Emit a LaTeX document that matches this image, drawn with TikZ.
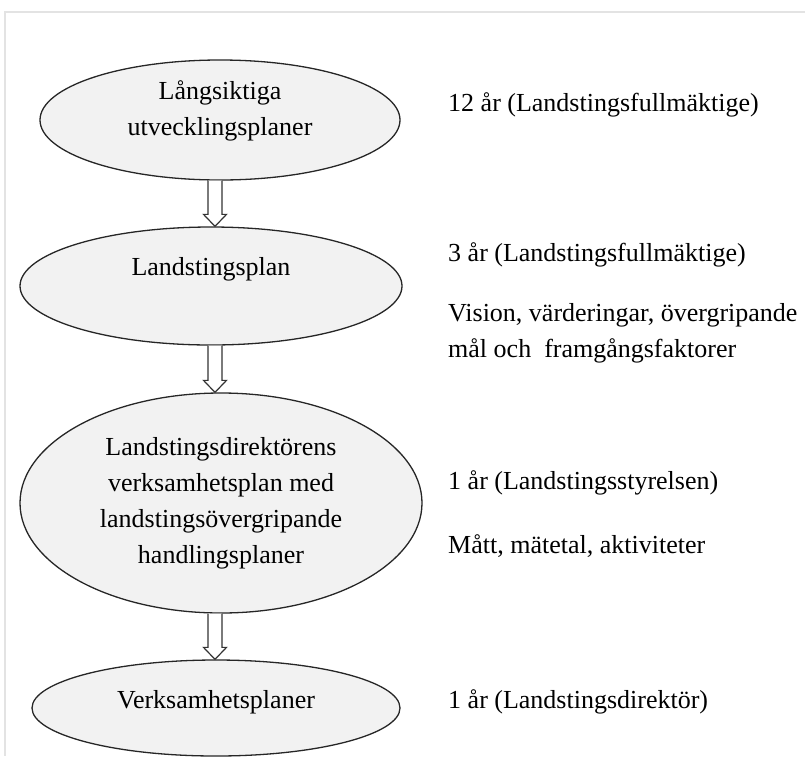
\documentclass[tikz,border=0pt]{standalone}
\usepackage{fontspec}
\setmainfont{Liberation Serif}
\usepackage{xcolor}
\definecolor{planfill}{HTML}{F2F2F2}
\definecolor{framegray}{HTML}{E3E3E3}
\usetikzlibrary{shapes.geometric,calc}

\begin{document}
\begin{tikzpicture}[x=1pt,y=-1pt,
  font=\fontsize{26}{36}\selectfont,
  plan/.style={ellipse,draw=black!85,fill=planfill,line width=1.3pt,
               inner sep=0pt,align=center},
  note/.style={anchor=west,align=left,inner sep=0pt},
  flowarrow/.style={draw=black!80,fill=white,line width=1.2pt,line join=miter}]

  \useasboundingbox (0,0) rectangle (805,756);

  % frame
  \draw[framegray,line width=1.5pt] (5,756) -- (5,12) -- (805,12);

  % plans
  \node[plan,minimum width=360,minimum height=120,text depth=23] (e1) at (220,120)
    {Långsiktiga\\utvecklingsplaner};
  \node[plan,minimum width=382,minimum height=118,text depth=39] (e2) at (211,286)
    {Landstingsplan};
  \node[plan,minimum width=402,minimum height=220] (e3) at (221,503)
    {Landstingsdirektörens\\verksamhetsplan med\\landstingsövergripande\\handlingsplaner};
  \node[plan,minimum width=368,minimum height=96,text depth=17] (e4) at (216,708)
    {Verksamhetsplaner};

  % hollow arrows
  \coordinate (axis) at (215,0);
  \foreach \a/\b in {e1/e2,e2/e3,e3/e4}
    \draw[flowarrow] ($(\a.south -| axis)+(-7,0)$) -- ($(\b.north -| axis)+(-7,-12)$)
      -- ++(-4.5,0) -- (\b.north -| axis) -- ($(\b.north -| axis)+(11.5,-12)$)
      -- ++(-4.5,0) -- ($(\a.south -| axis)+(7,0)$);

  % notes
  \node[note] (n1) at (448,105) {12 år (Landstingsfullmäktige)};
  \node[note] (n2) at (448,255) {3 år (Landstingsfullmäktige)};
  \node[note] (n3) at (448,333) {Vision, värderingar, övergripande\\mål och \ framgångsfaktorer};
  \node[note] (n4) at (448,483) {1 år (Landstingsstyrelsen)};
  \node[note] (n5) at (448,546) {Mått, mätetal, aktiviteter};
  \node[note] (n6) at (448,702) {1 år (Landstingsdirektör)};
\end{tikzpicture}
\end{document}
